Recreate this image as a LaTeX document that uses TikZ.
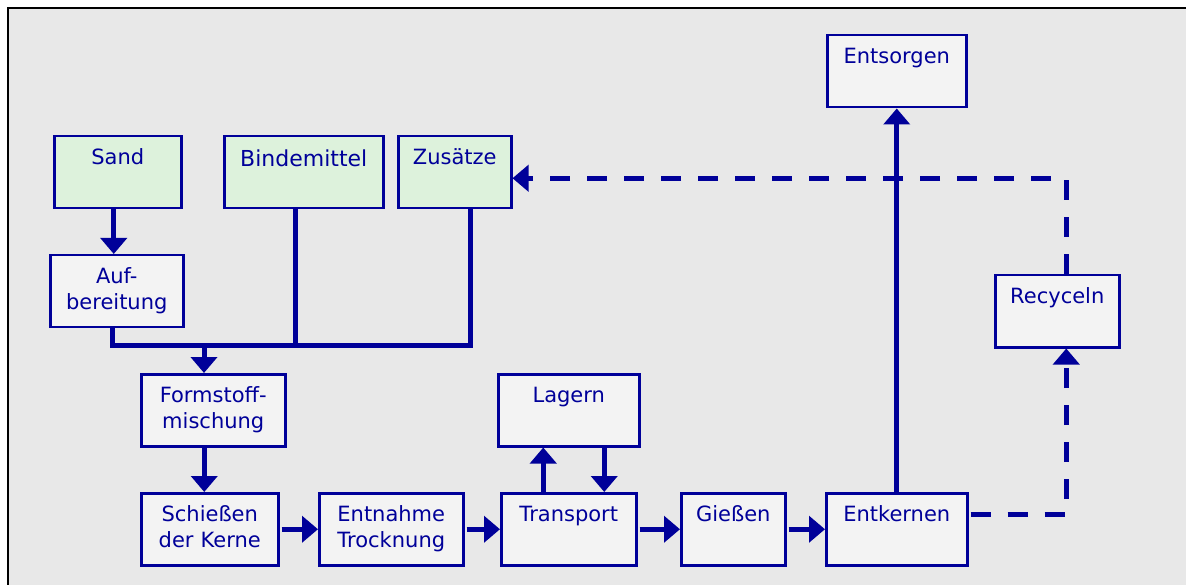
\documentclass[tikz,border=0pt]{standalone}
\usepackage{fontspec}
\setmainfont{DejaVu Sans}
\usetikzlibrary{arrows.meta}
\definecolor{myblue}{RGB}{0,0,153}
\definecolor{bg}{RGB}{232,232,232}
\definecolor{boxgray}{RGB}{243,243,243}
\definecolor{boxgreen}{RGB}{221,242,220}
\begin{document}
\begin{tikzpicture}[x=1pt,y=-1pt,
  box/.style={draw=myblue, line width=2.5pt, fill=boxgray, inner sep=0pt,
    text width=#1, align=center, text height=28pt, text depth=44pt,
    anchor=north west, text=myblue, font={\fontsize{21pt}{26pt}\selectfont}},
  gbox/.style={box=#1, fill=boxgreen},
  conn/.style={draw=myblue, line width=5pt},
  arr/.style={conn, -{Triangle[length=16pt,width=26pt]}},
  darr/.style={arr, dash pattern=on 20pt off 17pt},
]
\useasboundingbox (0,0) rectangle (1186,585);
\fill[white] (0,0) rectangle (1186,585);
\begin{scope}
  \clip (0,0) rectangle (1186,585);
  \draw[black, line width=2pt, fill=bg] (7.5,8.5) rectangle (1200,600);
\end{scope}

% nodes
\node[gbox=127pt] (sand) at (53,135) {Sand};
\node[gbox=159pt, font={\fontsize{22pt}{26pt}\selectfont}, text height=30pt, text depth=42pt] (binde) at (223,135) {Bindemittel};
\node[gbox=113pt] (zus) at (397,135) {Zusätze};
\node[box=133pt] (auf) at (49,254) {Auf-\\bereitung};
\node[box=144pt] (form) at (140,373) {Formstoff-\\mischung};
\node[box=137pt] (schiess) at (140,492) {Schießen\\der Kerne};
\node[box=144pt] (entn) at (318,492) {Entnahme\\Trocknung};
\node[box=135pt] (trans) at (500,492) {Transport};
\node[box=141pt] (lagern) at (497,373) {Lagern};
\node[box=104pt] (giess) at (680,492) {Gießen};
\node[box=141pt] (entk) at (825,492) {Entkernen};
\node[box=139pt] (entsorg) at (826,34) {Entsorgen};
\node[box=124pt] (recyc) at (994,274) {Recyceln};

% connectors
\draw[arr] ([xshift=-4pt]sand.south) -- ([xshift=-4pt]sand.south |- auf.north);
\coordinate (busL) at (112,345);
\coordinate (busM) at (204,345);
\coordinate (busR) at (470,345);
\draw[conn] (auf.south -| busL) -- (busL) -- (busR) -- (zus.south -| busR);
\draw[conn] ([xshift=-8pt]binde.south) -- ([xshift=-8pt]binde.south |- busL);
\draw[arr] (busM) -- (busM |- form.north);
\draw[arr] ([xshift=-9pt]form.south) -- ([xshift=-9pt]form.south |- schiess.north);
\draw[arr, shorten <=2pt] (schiess.east) -- (entn.west);
\draw[arr, shorten <=2pt] (entn.east) -- (trans.west);
\draw[arr, shorten <=2pt] (trans.east) -- (giess.west);
\draw[arr, shorten <=2pt] (giess.east) -- (entk.west);
\draw[arr] ([xshift=-25.5pt]trans.north) -- ([xshift=-25.5pt]trans.north |- lagern.south);
\draw[arr] ([xshift=35.5pt]trans.north |- lagern.south) -- ([xshift=35.5pt]trans.north);
\draw[arr] (entk.north) -- (entk.north |- entsorg.south);
\draw[darr, shorten <=2pt] ([yshift=15pt]entk.east) -| ([xshift=9pt]recyc.south);
\draw[darr] ([xshift=9pt]recyc.north) |- ([yshift=-6pt]zus.east);
\end{tikzpicture}
\end{document}
